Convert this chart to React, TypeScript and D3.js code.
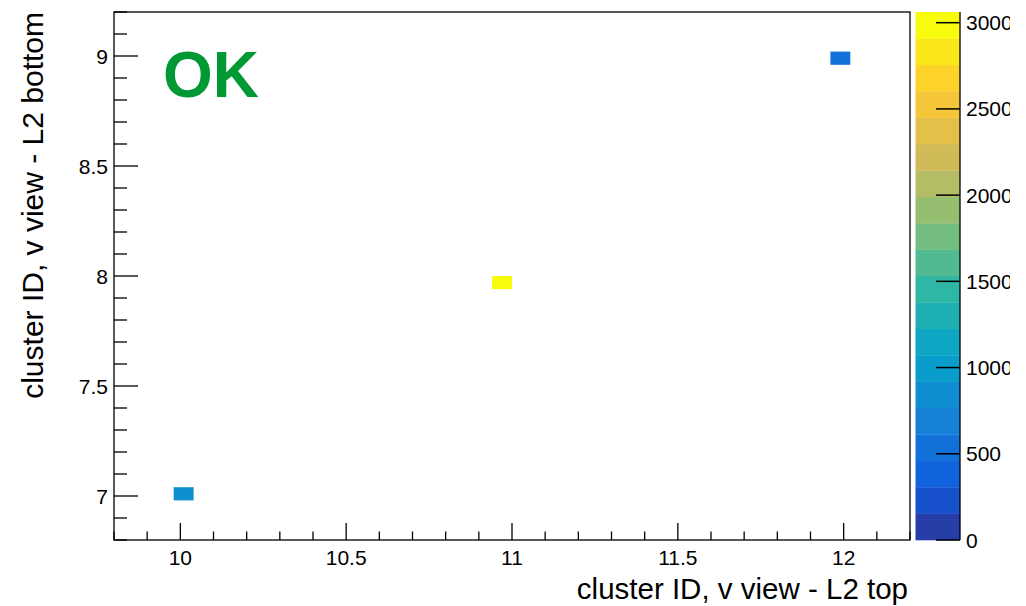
import React from "react";
import * as d3 from "d3";

// Histogram entries (cluster IDs read at bin centres) and their counts
const xValues = [10.01, 10.97, 11.99];
const yValues = [7.01, 7.97, 8.99];
const counts = [850, 3060, 540];

// Binning of the 2D histogram
const xRange: [number, number] = [9.8, 12.2];
const yRange: [number, number] = [6.8, 9.2];
const nBinsX = 40;
const nBinsY = 40;

// Axis ticks
const xMajorTicks = [10, 10.5, 11, 11.5, 12];
const yMajorTicks = [7, 7.5, 8, 8.5, 9];
const zTicks = [0, 500, 1000, 1500, 2000, 2500, 3000];
const zMax = 3062;
const nContours = 20;

const xTitle = "cluster ID, v view - L2 top";
const yTitle = "cluster ID, v view - L2 bottom";
const statusText = "OK";

// ROOT "bird" palette stops
const birdStops = [0, 0.125, 0.25, 0.375, 0.5, 0.625, 0.75, 0.875, 1];
const birdR = [0.2082, 0.0592, 0.078, 0.0232, 0.1802, 0.5301, 0.8186, 0.9956, 0.9764];
const birdG = [0.1664, 0.3599, 0.5041, 0.6419, 0.7178, 0.7492, 0.7328, 0.7862, 0.9832];
const birdB = [0.5293, 0.8684, 0.8385, 0.7914, 0.6425, 0.4662, 0.3499, 0.1968, 0.0539];

const FONT = "'Liberation Sans', Arial, Helvetica, sans-serif";

function buildPalette(n: number): string[] {
  const r = d3.scaleLinear(birdStops, birdR);
  const g = d3.scaleLinear(birdStops, birdG);
  const b = d3.scaleLinear(birdStops, birdB);
  return d3.range(n).map((i) => {
    const t = i / (n - 1);
    return d3.rgb(r(t) * 255, g(t) * 255, b(t) * 255).formatHex();
  });
}

const palette = buildPalette(255);
const levelColor = (level: number) =>
  palette[Math.floor(((level + 0.99) * palette.length) / nContours)];

export default function App() {
  const frame = { left: 114, right: 910, top: 12, bottom: 540 };
  const bar = { left: 915.5, right: 960 };

  const x = d3.scaleLinear(xRange, [frame.left, frame.right]);
  const y = d3.scaleLinear(yRange, [frame.bottom, frame.top]);
  const z = d3.scaleLinear([0, zMax], [frame.bottom, frame.top]);

  const bwX = (xRange[1] - xRange[0]) / nBinsX;
  const bwY = (yRange[1] - yRange[0]) / nBinsY;

  const cells = xValues.map((xv, i) => {
    const ix = Math.floor((xv - xRange[0]) / bwX);
    const iy = Math.floor((yValues[i] - yRange[0]) / bwY);
    const x0 = xRange[0] + ix * bwX;
    const y0 = yRange[0] + iy * bwY;
    const level = Math.min(nContours - 1, Math.floor((counts[i] / zMax) * nContours));
    return { x0, x1: x0 + bwX, y0, y1: y0 + bwY, color: levelColor(level) };
  });

  const xMinor = d3.range(98, 123).map((v) => v / 10).filter((v) => v >= xRange[0] - 1e-9 && v <= xRange[1] + 1e-9);
  const yMinor = d3.range(68, 93).map((v) => v / 10).filter((v) => v >= yRange[0] - 1e-9 && v <= yRange[1] + 1e-9);
  const isMajor = (v: number) => Math.abs(v * 2 - Math.round(v * 2)) < 1e-6;

  const bands = d3.range(nContours).map((l) => ({
    v0: (l * zMax) / nContours,
    v1: ((l + 1) * zMax) / nContours,
    color: levelColor(l),
  }));

  return (
    <svg
      width={1026}
      height={606}
      style={{ position: "absolute", left: 0, top: 0, background: "#fff" }}
      fontFamily={FONT}
    >
      <defs>
        <clipPath id="padclip">
          <rect x={0} y={0} width={1010} height={606} />
        </clipPath>
      </defs>
      <rect x={0} y={0} width={1026} height={606} fill="#fff" />

      {/* histogram cells */}
      {cells.map((c, i) => (
        <rect
          key={i}
          x={x(c.x0)}
          y={y(c.y1)}
          width={x(c.x1) - x(c.x0)}
          height={y(c.y0) - y(c.y1)}
          fill={c.color}
        />
      ))}

      {/* frame */}
      <rect
        x={frame.left}
        y={frame.top}
        width={frame.right - frame.left}
        height={frame.bottom - frame.top}
        fill="none"
        stroke="#000"
        strokeWidth={1.3}
      />

      {/* x axis ticks */}
      {xMinor.map((v, i) => (
        <line
          key={"xt" + i}
          x1={x(v)}
          x2={x(v)}
          y1={frame.bottom}
          y2={frame.bottom - (isMajor(v) ? 17 : 8.5)}
          stroke="#000"
          strokeWidth={1.3}
        />
      ))}
      {xMajorTicks.map((v) => (
        <text key={"xl" + v} x={x(v)} y={565} fontSize={21} textAnchor="middle" fill="#000">
          {v}
        </text>
      ))}

      {/* y axis ticks */}
      {yMinor.map((v, i) => (
        <line
          key={"yt" + i}
          x1={frame.left}
          x2={frame.left + (isMajor(v) ? 24 : 13)}
          y1={y(v)}
          y2={y(v)}
          stroke="#000"
          strokeWidth={1.3}
        />
      ))}
      {yMajorTicks.map((v) => (
        <text key={"yl" + v} x={108} y={y(v) + 7.5} fontSize={21} textAnchor="end" fill="#000">
          {v}
        </text>
      ))}

      {/* axis titles */}
      <text x={908} y={599} fontSize={29.5} textAnchor="end" fill="#000">
        {xTitle}
      </text>
      <text
        transform={`translate(43,12) rotate(-90)`}
        fontSize={30}
        textAnchor="end"
        fill="#000"
      >
        {yTitle}
      </text>

      {/* status label */}
      <text x={163} y={97} fontSize={64} fontWeight="bold" fill="#009933">
        {statusText}
      </text>

      {/* colour bar */}
      {bands.map((b, i) => (
        <rect
          key={"b" + i}
          x={bar.left}
          y={z(b.v1)}
          width={bar.right - bar.left}
          height={z(b.v0) - z(b.v1) + 0.3}
          fill={b.color}
        />
      ))}
      <line x1={bar.right} x2={bar.right} y1={frame.top} y2={frame.bottom} stroke="#000" strokeWidth={1.3} />
      <g clipPath="url(#padclip)">
        {zTicks.map((v) => (
          <g key={"z" + v}>
            <line x1={bar.right - 24} x2={bar.right} y1={z(v)} y2={z(v)} stroke="#000" strokeWidth={1.5} />
            <text x={966} y={z(v) + 7.5} fontSize={21} fill="#000">
              {v}
            </text>
          </g>
        ))}
      </g>
    </svg>
  );
}
